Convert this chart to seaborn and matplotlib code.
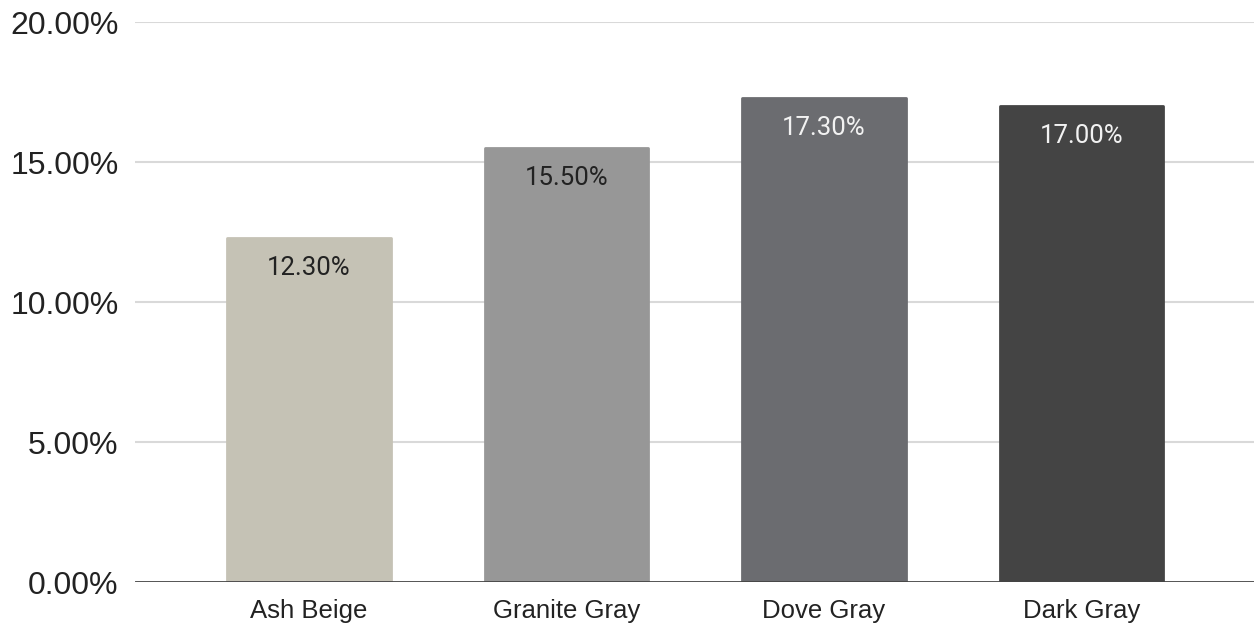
import matplotlib
matplotlib.use("Agg")
import matplotlib.pyplot as plt
import seaborn as sns
import pandas as pd
from matplotlib.ticker import FuncFormatter

categories = ["Ash Beige", "Granite Gray", "Dove Gray", "Dark Gray"]
values = [12.30, 15.50, 17.30, 17.00]
colors = ["#C5C2B5", "#979797", "#6B6C70", "#444444"]
label_colors = ["#222222", "#222222", "#F2F2F2", "#F2F2F2"]
yticks = [0, 5, 10, 15, 20]

sns.set_theme(style="white")
plt.rcParams['font.family'] = ['Liberation Sans', 'DejaVu Sans']

df = pd.DataFrame({"cat": categories, "val": values})

fig = plt.figure(figsize=(12.54, 6.25), dpi=100)
ax = fig.add_axes([0.1077, 0.0688, 0.8923, 0.896])

for y in yticks[1:]:
    ax.axhline(y, color="#D9D9D9", linewidth=1.5, zorder=0)

sns.barplot(data=df, x="cat", y="val", hue="cat", palette=colors, legend=False,
            width=0.635, ax=ax, zorder=2, saturation=1)

for p, c in zip(ax.patches, colors):
    p.set_edgecolor(c)
    p.set_linewidth(2)
    p.set_joinstyle("round")

for i, (v, tc) in enumerate(zip(values, label_colors)):
    ax.annotate(f"{v:.2f}%", xy=(i, v), xytext=(0, -30), textcoords="offset pixels",
                ha="center", va="center", fontsize=18.5, color=tc, family="Roboto", zorder=3)

ax.axhline(0, color="#444444", linewidth=2, zorder=4)

ax.set_ylim(0, 20)
ax.set_xlim(-0.676, 3.67)
ax.set_yticks(yticks)
ax.yaxis.set_major_formatter(FuncFormatter(lambda v, _: f"{v:.2f}%"))
ax.tick_params(axis="y", labelsize=23, colors="#222222", length=0, pad=12)
ax.tick_params(axis="x", labelsize=18.5, colors="#222222", length=0, pad=12)
ax.set_xlabel("")
ax.set_ylabel("")
for s in ax.spines.values():
    s.set_visible(False)

fig.savefig("out.png", dpi=100)
